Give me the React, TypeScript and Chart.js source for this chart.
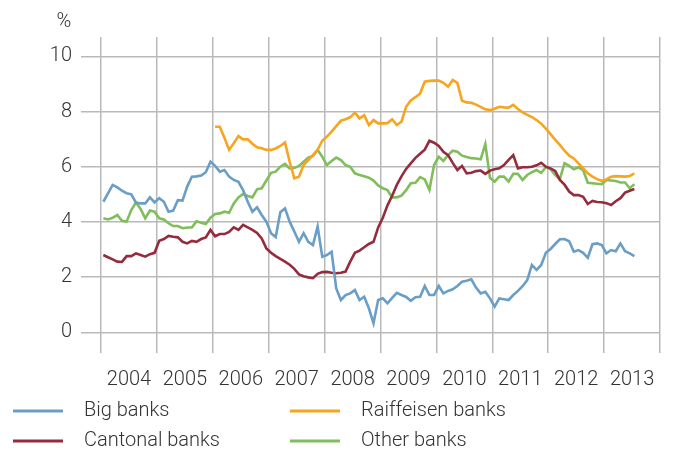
import { useEffect, useRef } from 'react';
import { Chart, registerables } from 'chart.js';

Chart.register(...registerables);

// Monthly data, January 2004 – July 2013 (values in %)
const START_YEAR = 2004;
const RAIFFEISEN_START_INDEX = 24; // January 2006

const bigBanks = [
  4.73, 5.03, 5.34, 5.25, 5.13, 5.04, 5.0, 4.7, 4.67, 4.67,
  4.89, 4.71, 4.86, 4.73, 4.37, 4.41, 4.79, 4.77, 5.28, 5.64,
  5.65, 5.68, 5.8, 6.18, 6.03, 5.82, 5.88, 5.64, 5.52, 5.45,
  5.15, 4.73, 4.37, 4.53, 4.25, 4.01, 3.59, 3.45, 4.35, 4.49,
  4.01, 3.65, 3.28, 3.59, 3.28, 3.16, 3.83, 2.74, 2.8, 2.92,
  1.59, 1.17, 1.35, 1.41, 1.53, 1.17, 1.29, 0.87, 0.33, 1.17,
  1.23, 1.05, 1.25, 1.43, 1.35, 1.28, 1.14, 1.27, 1.29, 1.68,
  1.35, 1.35, 1.68, 1.41, 1.5, 1.56, 1.68, 1.83, 1.87, 1.92,
  1.62, 1.41, 1.47, 1.23, 0.93, 1.23, 1.2, 1.17, 1.35, 1.5,
  1.67, 1.89, 2.44, 2.26, 2.44, 2.88, 3.02, 3.2, 3.37, 3.38,
  3.3, 2.92, 2.98, 2.88, 2.7, 3.19, 3.22, 3.16, 2.86, 2.98,
  2.94, 3.22, 2.94, 2.86, 2.76,
];

const cantonalBanks = [
  2.8, 2.72, 2.64, 2.56, 2.55, 2.76, 2.76, 2.86, 2.8, 2.74,
  2.83, 2.88, 3.32, 3.38, 3.49, 3.46, 3.44, 3.28, 3.22, 3.31,
  3.28, 3.38, 3.44, 3.71, 3.48, 3.56, 3.56, 3.64, 3.8, 3.71,
  3.89, 3.8, 3.71, 3.6, 3.4, 3.04, 2.88, 2.76, 2.66, 2.56,
  2.45, 2.3, 2.1, 2.03, 1.99, 1.96, 2.12, 2.18, 2.19, 2.16,
  2.14, 2.16, 2.2, 2.56, 2.88, 2.96, 3.08, 3.2, 3.28, 3.8,
  4.15, 4.6, 4.95, 5.34, 5.65, 5.92, 6.12, 6.32, 6.47, 6.62,
  6.94, 6.87, 6.75, 6.54, 6.42, 6.14, 5.88, 6.03, 5.76, 5.78,
  5.84, 5.86, 5.74, 5.86, 5.91, 5.94, 6.06, 6.25, 6.42, 5.94,
  5.98, 5.98, 6.0, 6.05, 6.14, 6.0, 5.94, 5.85, 5.52, 5.35,
  5.1, 4.97, 4.97, 4.91, 4.65, 4.76, 4.72, 4.71, 4.68, 4.61,
  4.75, 4.86, 5.06, 5.13, 5.19,
];

// January 2006 – July 2013
const raiffeisenBanks = [
  7.45, 7.45, 7.05, 6.61, 6.85, 7.11, 6.99, 6.99, 6.83, 6.7,
  6.67, 6.61, 6.61, 6.66, 6.75, 6.88, 6.18, 5.58, 5.64, 6.06,
  6.24, 6.42, 6.61, 6.94, 7.09, 7.27, 7.47, 7.67, 7.72, 7.79,
  7.96, 7.75, 7.87, 7.51, 7.69, 7.57, 7.57, 7.58, 7.72, 7.51,
  7.63, 8.17, 8.4, 8.52, 8.65, 9.08, 9.11, 9.12, 9.12, 9.04,
  8.9, 9.14, 9.04, 8.39, 8.33, 8.32, 8.25, 8.17, 8.08, 8.05,
  8.1, 8.17, 8.15, 8.14, 8.24, 8.09, 7.97, 7.88, 7.8, 7.69,
  7.56, 7.38, 7.18, 6.98, 6.79, 6.58, 6.4, 6.3, 6.12, 5.95,
  5.76, 5.64, 5.55, 5.49, 5.54, 5.64, 5.66, 5.65, 5.64, 5.66,
  5.76,
];

const otherBanks = [
  4.13, 4.09, 4.15, 4.25, 4.04, 4.01, 4.43, 4.7, 4.47, 4.13,
  4.41, 4.37, 4.13, 4.09, 3.95, 3.85, 3.85, 3.77, 3.8, 3.8,
  4.02, 3.97, 3.92, 4.15, 4.29, 4.31, 4.37, 4.33, 4.67, 4.89,
  5.01, 4.94, 4.89, 5.18, 5.22, 5.5, 5.78, 5.82, 6.0, 6.1,
  5.94, 5.95, 6.03, 6.18, 6.33, 6.39, 6.61, 6.36, 6.06, 6.21,
  6.33, 6.24, 6.06, 6.0, 5.76, 5.7, 5.65, 5.6, 5.5, 5.32,
  5.22, 5.15, 4.89, 4.89, 4.95, 5.15, 5.4, 5.42, 5.62, 5.54,
  5.16, 6.06, 6.36, 6.21, 6.42, 6.58, 6.54, 6.4, 6.35, 6.31,
  6.3, 6.27, 6.82, 5.6, 5.46, 5.64, 5.64, 5.46, 5.74, 5.74,
  5.52, 5.7, 5.8, 5.88, 5.78, 5.98, 5.91, 5.7, 5.55, 6.13,
  6.03, 5.91, 5.98, 5.88, 5.42, 5.4, 5.38, 5.37, 5.52, 5.5,
  5.48, 5.43, 5.43, 5.22, 5.37,
];

const yearTicks = [2004, 2005, 2006, 2007, 2008, 2009, 2010, 2011, 2012, 2013, 2014];
const yearLabels = ['2004', '2005', '2006', '2007', '2008', '2009', '2010', '2011', '2012', '2013', ''];
const yTicks = [0, 2, 4, 6, 8, 10];
const yUnit = '%';

const COLORS = {
  big: '#6a9ec6',
  cantonal: '#952c3d',
  raiffeisen: '#f7a41f',
  other: '#7fbe5b',
};

const FONT_FAMILY = 'Roboto, "Liberation Sans", Arial, sans-serif';
const TEXT_COLOR = '#333333';
const GRID_COLOR = '#b9b9b9';

const monthX = (i: number) => START_YEAR + (i + 0.5) / 12;
const toPoints = (values: number[], offset = 0) =>
  values.map((v, i) => ({ x: monthX(i + offset), y: v }));

const overlayPlugin = {
  id: 'overlay',
  afterDraw(chart: any) {
    const ctx = chart.ctx;
    ctx.save();
    ctx.fillStyle = TEXT_COLOR;
    ctx.font = `300 20px ${FONT_FAMILY}`;
    ctx.textAlign = 'center';
    ctx.textBaseline = 'middle';
    ctx.fillText(yUnit, 64, 22);

    // two-column legend
    const order = [0, 2, 1, 3]; // Big, Raiffeisen / Cantonal, Other
    const ds = chart.data.datasets;
    order.forEach((dsIndex, k) => {
      const col = k % 2;
      const row = Math.floor(k / 2);
      const x0 = col === 0 ? 13 : 290;
      const y0 = row === 0 ? 411 : 441;
      ctx.strokeStyle = ds[dsIndex].borderColor;
      ctx.lineWidth = 3;
      ctx.beginPath();
      ctx.moveTo(x0, y0);
      ctx.lineTo(x0 + 50, y0);
      ctx.stroke();
      ctx.textAlign = 'left';
      ctx.fillStyle = TEXT_COLOR;
      ctx.fillText(ds[dsIndex].label, x0 + 71, y0);
    });
    ctx.restore();
  },
};

export default function App() {
  const ref = useRef<HTMLCanvasElement>(null);

  useEffect(() => {
    if (!ref.current) return;
    const chart = new Chart(ref.current, {
      type: 'line',
      data: {
        datasets: [
          { label: 'Big banks', data: toPoints(bigBanks), borderColor: COLORS.big },
          { label: 'Cantonal banks', data: toPoints(cantonalBanks), borderColor: COLORS.cantonal },
          { label: 'Raiffeisen banks', data: toPoints(raiffeisenBanks, RAIFFEISEN_START_INDEX), borderColor: COLORS.raiffeisen },
          { label: 'Other banks', data: toPoints(otherBanks), borderColor: COLORS.other },
        ].map((d) => ({
          ...d,
          borderWidth: 2.6,
          pointRadius: 0,
          tension: 0,
          fill: false,
          backgroundColor: d.borderColor,
        })),
      },
      options: {
        animation: false,
        responsive: false,
        devicePixelRatio: 1,
        layout: { padding: { left: 0, right: 21, top: 37, bottom: 0 } },
        plugins: {
          legend: { display: false },
          tooltip: { enabled: false },
          title: { display: false },
        },
        scales: {
          x: {
            type: 'linear',
            min: 2004,
            max: 2014,
            afterBuildTicks: (scale: any) => {
              scale.ticks = yearTicks.map((v) => ({ value: v }));
            },
            afterFit: (scale: any) => {
              scale.height = 99;
            },
            grid: { color: GRID_COLOR, lineWidth: 1.5, drawTicks: false },
            border: { display: false },
            ticks: {
              autoSkip: false,
              maxRotation: 0,
              minRotation: 0,
              labelOffset: 28,
              padding: 15,
              color: TEXT_COLOR,
              font: { family: FONT_FAMILY, size: 20, weight: '300' },
              callback: (_v: any, i: number) => yearLabels[i],
            },
          },
          y: {
            type: 'linear',
            min: -0.75,
            max: 10.7,
            afterBuildTicks: (scale: any) => {
              scale.ticks = yTicks.map((v) => ({ value: v }));
            },
            afterFit: (scale: any) => {
              scale.width = 101;
            },
            grid: { color: GRID_COLOR, lineWidth: 1.5, drawTicks: true, tickLength: 20 },
            border: { display: false },
            ticks: {
              padding: 9,
              color: TEXT_COLOR,
              font: { family: FONT_FAMILY, size: 20, weight: '300' },
              callback: (v: any) => String(v),
            },
          },
        },
      },
      plugins: [overlayPlugin],
    } as any);
    return () => chart.destroy();
  }, []);

  return (
    <div style={{ position: 'fixed', left: 0, top: 0, width: 681, height: 452, background: '#ffffff' }}>
      <canvas ref={ref} width={681} height={452} style={{ display: 'block', width: 681, height: 452 }} />
    </div>
  );
}
